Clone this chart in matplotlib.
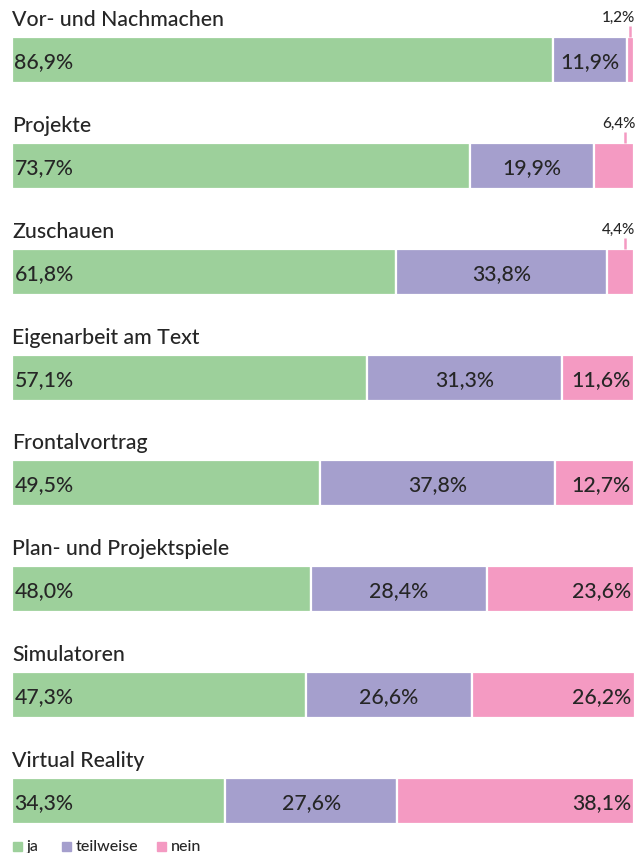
import matplotlib
matplotlib.use("Agg")
import matplotlib.pyplot as plt

categories = ["Vor- und Nachmachen", "Projekte", "Zuschauen", "Eigenarbeit am Text",
              "Frontalvortrag", "Plan- und Projektspiele", "Simulatoren", "Virtual Reality"]
ja = [86.9, 73.7, 61.8, 57.1, 49.5, 48.0, 47.3, 34.3]
teilweise = [11.9, 19.9, 33.8, 31.3, 37.8, 28.4, 26.6, 27.6]
nein = [1.2, 6.4, 4.4, 11.6, 12.7, 23.6, 26.2, 38.1]
series_names = ["ja", "teilweise", "nein"]
colors = ["#9dd09b", "#a59fcd", "#f49ac2"]
text_color = "#262626"

plt.rcParams['font.family'] = ['Lato', 'DejaVu Sans']
WEIGHT = 'medium'

W, H = 639, 854
fig = plt.figure(figsize=(W / 100, H / 100), dpi=100)
ax = fig.add_axes([12 / W, 0, 622 / W, 1])
ax.set_xlim(0, 100)
ax.set_ylim(H, 0)
ax.axis('off')

fmt = lambda v: f"{v:.1f}%".replace('.', ',')

FS = 15.3
top0, step, bh = 38, 105.86, 46
for i, cat in enumerate(categories):
    top = top0 + i * step
    yc = top + bh / 2
    vals = [ja[i], teilweise[i], nein[i]]
    left = 0
    for j, v in enumerate(vals):
        ax.barh(yc, v, left=left, height=bh, color=colors[j], edgecolor='white',
                linewidth=1.6, clip_on=False)
        kw = dict(va='center', fontsize=FS, color=text_color, fontweight=WEIGHT)
        if j == 0:
            ax.text(left + 0.4, yc + 1, fmt(v), ha='left', **kw)
        elif j == 1:
            ax.text(left + v / 2, yc + 1, fmt(v), ha='center', **kw)
        else:
            if v >= 8:
                ax.text(99.5, yc + 1, fmt(v), ha='right', **kw)
            else:
                lx = 100 - min(v / 2, 1.4)
                ax.plot([lx, lx], [top - 11, top], color=colors[2], lw=1.8, solid_capstyle='butt', clip_on=False)
                ax.text(100.2, top - 16, fmt(v), ha='right', va='baseline', fontsize=11,
                        color=text_color, fontweight=WEIGHT)
        left += v
    ax.text(0, top - 12, cat, ha='left', va='baseline', fontsize=FS, color=text_color, fontweight=WEIGHT)

# legend
leg_x = [0.2, 8.1, 23.3]
for j, name in enumerate(series_names):
    x = leg_x[j]
    ax.add_patch(plt.Rectangle((x, 843), 1.45, 8.5, color=colors[j], clip_on=False))
    ax.text(x + 2.2, 851.5, name, ha='left', va='baseline', fontsize=11.5, color=text_color,
            fontweight=WEIGHT)

fig.savefig("out.png", dpi=100)
